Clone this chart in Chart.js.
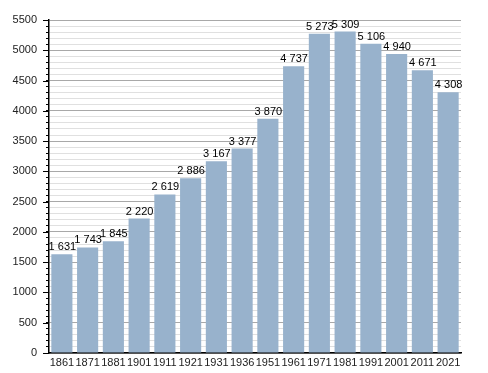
<!DOCTYPE html>
<html>
<head>
<meta charset="utf-8">
<script src="https://cdn.jsdelivr.net/npm/chart.js@4/dist/chart.umd.min.js"></script>
<style>
    html, body { margin: 0; padding: 0; background: #fff; }
    #wrap { width: 488px; height: 373px; }
</style>
</head>
<body>
<div id="wrap"><canvas id="myChart" width="488" height="373"></canvas></div>
<script>
const years = ['1861', '1871', '1881', '1901', '1911', '1921', '1931', '1936', '1951', '1961', '1971', '1981', '1991', '2001', '2011', '2021'];
const population = [1631, 1743, 1845, 2220, 2619, 2886, 3167, 3377, 3870, 4737, 5273, 5309, 5106, 4940, 4671, 4308];
const yMin = 0;
const yMax = 5500;
const minorStep = 100;
const majorStep = 500;

const fontFamily = '"Liberation Sans", Arial, sans-serif';

function withSpace(v) {
    return String(v).replace(/\B(?=(\d{3})+(?!\d))/g, ' ');
}

// value labels above each bar
const barLabels = {
    id: 'barLabels',
    afterDatasetsDraw(chart) {
        const c = chart.ctx;
        const meta = chart.getDatasetMeta(0);
        c.save();
        c.font = '11px ' + fontFamily;
        c.fillStyle = '#000';
        c.textAlign = 'center';
        c.textBaseline = 'alphabetic';
        meta.data.forEach((bar, i) => {
            c.fillText(withSpace(population[i]), bar.x + 0.5, bar.y - 4);
        });
        c.restore();
    }
};

// longer tick marks on the major values
const majorTicks = {
    id: 'majorTicks',
    afterDraw(chart) {
        const y = chart.scales.y;
        const c = chart.ctx;
        c.save();
        c.strokeStyle = '#000';
        c.lineWidth = 1;
        c.beginPath();
        for (let v = yMin; v <= yMax; v += majorStep) {
            const py = Math.round(y.getPixelForValue(v)) + 0.5;
            c.moveTo(y.right - 6, py);
            c.lineTo(y.right, py);
        }
        c.stroke();
        c.restore();
    }
};

const ctx = document.getElementById('myChart');
new Chart(ctx, {
    type: 'bar',
    data: {
        labels: years,
        datasets: [{
            data: population,
            backgroundColor: '#98b2cc',
            borderWidth: 0,
            barPercentage: 0.82,
            categoryPercentage: 1
        }]
    },
    options: {
        responsive: false,
        animation: false,
        events: [],
        layout: { padding: { top: 20, right: 27, left: 0, bottom: 0 } },
        plugins: { legend: { display: false }, tooltip: { enabled: false } },
        scales: {
            x: {
                afterFit: s => { s.height = 20; },
                grid: { display: false, drawTicks: false },
                border: { display: true, color: '#000', width: 1.5 },
                ticks: {
                    color: '#222',
                    padding: 3,
                    maxRotation: 0,
                    autoSkip: false,
                    font: { family: fontFamily, size: 11 }
                }
            },
            y: {
                min: yMin,
                max: yMax,
                afterFit: s => { s.width = 49; },
                border: { display: true, color: '#000', width: 1.5 },
                grid: {
                    color: c => (c.tick && c.tick.value % majorStep === 0) ? '#a8a8a8' : '#e0e0e0',
                    tickColor: '#000',
                    tickLength: 3,
                    lineWidth: 1
                },
                ticks: {
                    stepSize: minorStep,
                    autoSkip: false,
                    padding: 9,
                    color: '#222',
                    font: { family: fontFamily, size: 11 },
                    callback: v => (v % majorStep === 0) ? String(v) : ''
                }
            }
        }
    },
    plugins: [barLabels, majorTicks]
});
</script>
</body>
</html>
